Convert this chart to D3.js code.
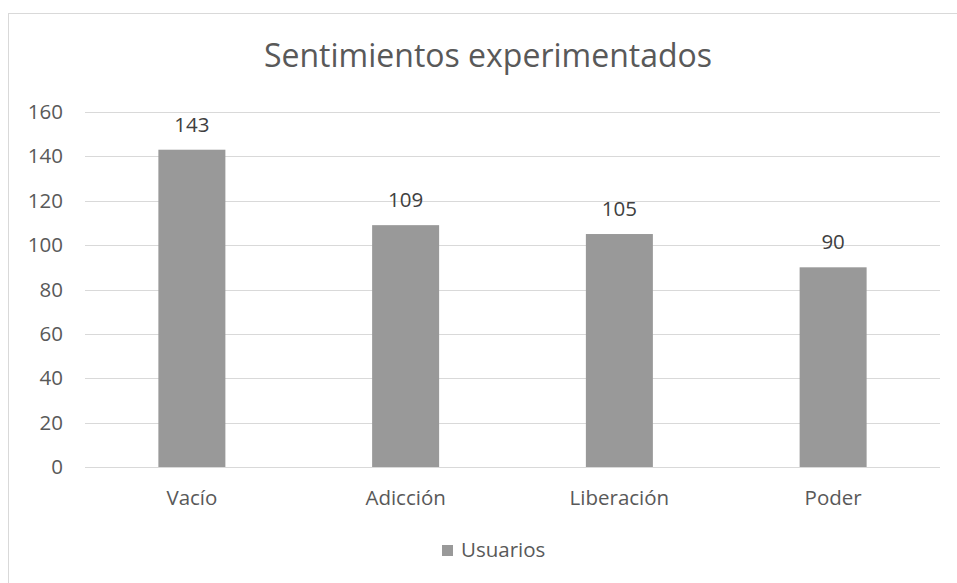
<!DOCTYPE html>
<html>
<head>
<meta charset="utf-8">
<script src="https://cdn.jsdelivr.net/npm/d3@7"></script>
<style>
  body { margin: 0; background: #fff; }
  text { font-family: "Open Sans", sans-serif; fill: #595959; }
</style>
</head>
<body>
<div id="chart"></div>
<script>
    const categories = ['Vacío', 'Adicción', 'Liberación', 'Poder']
    const usuarios = [143, 109, 105, 90]
    const yTicks = [0, 20, 40, 60, 80, 100, 120, 140, 160]
    const seriesName = 'Usuarios'
    const chartTitle = 'Sentimientos experimentados'

    const svgWidth = 957
    const svgHeight = 583
    const barWidth = 67
    const labelSize = '20.5px'

    const svg = d3.select('#chart')
      .append('svg')
      .attr('width', svgWidth)
      .attr('height', svgHeight)

    // outer chart border
    svg.append('rect')
      .attr('x', 8.5)
      .attr('y', 13.5)
      .attr('width', 1000)
      .attr('height', 700)
      .attr('fill', 'none')
      .attr('stroke', '#d9d9d9')

    const xScale = d3.scaleBand()
      .domain(categories)
      .range([85, 940])

    const yScale = d3.scaleLinear()
      .domain([0, 160])
      .range([467, 112])

    // gridlines
    svg.append('g')
      .selectAll('line')
      .data(yTicks)
      .join('line')
      .attr('x1', 85)
      .attr('x2', 940)
      .attr('y1', d => Math.round(yScale(d)) + 0.5)
      .attr('y2', d => Math.round(yScale(d)) + 0.5)
      .attr('stroke', '#d9d9d9')
      .attr('stroke-width', 1)

    const yAxis = d3.axisLeft(yScale)
      .tickValues(yTicks)
      .tickSize(0)
      .tickPadding(0)

    svg.append('g')
      .attr('transform', 'translate(63,0)')
      .call(yAxis)
      .call(g => g.select('.domain').remove())
      .selectAll('text')
      .style('font-size', labelSize)
      .attr('fill', '#595959')

    svg.append('g')
      .selectAll('rect')
      .data(usuarios)
      .join('rect')
      .attr('x', (d, i) => xScale(categories[i]) + (xScale.bandwidth() - barWidth) / 2)
      .attr('width', barWidth)
      .attr('y', d => yScale(d))
      .attr('height', d => yScale(0) - yScale(d))
      .attr('fill', '#999999')

    // value labels
    svg.append('g')
      .selectAll('text')
      .data(usuarios)
      .join('text')
      .attr('x', (d, i) => xScale(categories[i]) + xScale.bandwidth() / 2)
      .attr('y', d => yScale(d) - 18)
      .attr('text-anchor', 'middle')
      .style('font-size', labelSize)
      .style('fill', '#404040')
      .text(d => d)

    const xAxis = d3.axisBottom(xScale)
      .tickSize(0)
      .tickPadding(0)

    svg.append('g')
      .attr('transform', 'translate(0,505)')
      .call(xAxis)
      .call(g => g.select('.domain').remove())
      .selectAll('text')
      .attr('dy', 0)
      .style('font-size', labelSize)
      .attr('fill', '#595959')

    svg.append('text')
      .attr('x', 488)
      .attr('y', 67)
      .attr('text-anchor', 'middle')
      .style('font-size', '32px')
      .text(chartTitle)

    // legend
    const legend = svg.append('g').attr('transform', 'translate(442,545)')
    legend.append('rect')
      .attr('width', 11)
      .attr('height', 11)
      .attr('fill', '#999999')
    legend.append('text')
      .attr('x', 19)
      .attr('y', 12)
      .style('font-size', labelSize)
      .text(seriesName)
</script>
</body>
</html>
